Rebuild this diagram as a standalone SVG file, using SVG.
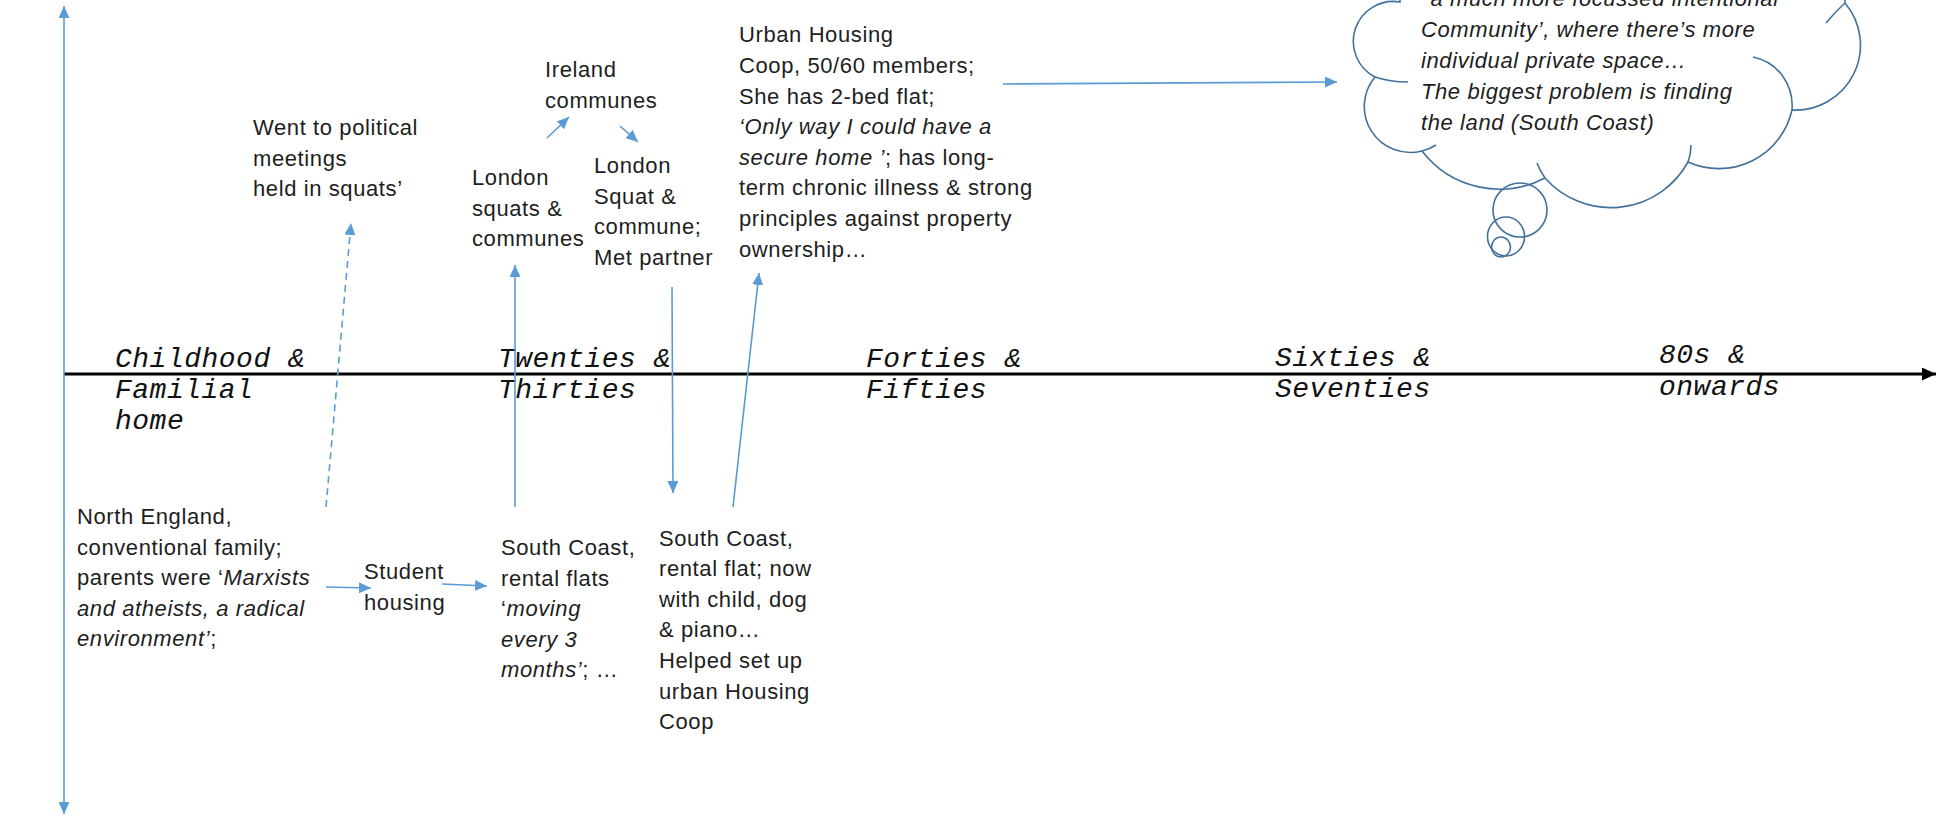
<svg xmlns="http://www.w3.org/2000/svg" width="1944" height="819" viewBox="0 0 1944 819">
<style>
.t{font-family:"Liberation Sans",Arial,sans-serif;font-size:22px;letter-spacing:0.6px;fill:#1e1e1e}
.i{font-style:italic}
.p{font-family:"Liberation Mono","Courier New",monospace;font-style:italic;font-size:28px;letter-spacing:0.5px;fill:#111}
.c{fill:none;stroke:#5B9BD5;stroke-width:1.6}
.cl{fill:none;stroke:#41719C;stroke-width:1.6}
</style>
<defs>
<marker id="ab" markerUnits="userSpaceOnUse" markerWidth="13" markerHeight="11" refX="12" refY="5.5" orient="auto-start-reverse">
<path d="M0,0 L12,5.5 L0,11 z" fill="#5B9BD5"/>
</marker>
<marker id="ak" markerUnits="userSpaceOnUse" markerWidth="15" markerHeight="13" refX="14" refY="6.5" orient="auto">
<path d="M0,0 L14,6.5 L0,13 z" fill="#000"/>
</marker>
</defs>
<rect width="1944" height="819" fill="#fff"/>

<g id="axes">
<line x1="64" y1="374" x2="1936" y2="374" stroke="#000" stroke-width="3" marker-end="url(#ak)"/>
<line x1="64" y1="6" x2="64" y2="814" class="c" marker-start="url(#ab)" marker-end="url(#ab)"/>
</g>

<g id="periods">
<text class="p" x="115" y="367">Childhood &amp;<tspan x="115" y="398">Familial</tspan><tspan x="115" y="429">home</tspan></text>
<text class="p" x="498" y="367">Twenties &amp;<tspan x="498" y="398">Thirties</tspan></text>
<text class="p" x="866" y="367">Forties &amp;<tspan x="866" y="398">Fifties</tspan></text>
<text class="p" x="1275" y="366">Sixties &amp;<tspan x="1275" y="397">Seventies</tspan></text>
<text class="p" x="1659" y="363">80s &amp;<tspan x="1659" y="395">onwards</tspan></text>
</g>

<g id="connectors">
<line x1="326" y1="507" x2="351" y2="223" class="c" stroke-dasharray="7,5" marker-end="url(#ab)"/>
<line x1="515" y1="507" x2="515" y2="265" class="c" marker-end="url(#ab)"/>
<line x1="547" y1="138" x2="569" y2="117" class="c" marker-end="url(#ab)"/>
<line x1="620" y1="126" x2="638" y2="142" class="c" marker-end="url(#ab)"/>
<line x1="672" y1="287" x2="673" y2="493" class="c" marker-end="url(#ab)"/>
<line x1="733" y1="507" x2="759" y2="273" class="c" marker-end="url(#ab)"/>
<line x1="1003" y1="84" x2="1337" y2="82" class="c" marker-end="url(#ab)"/>
<line x1="326" y1="587" x2="371" y2="588" class="c" marker-end="url(#ab)"/>
<line x1="442" y1="584" x2="487" y2="586" class="c" marker-end="url(#ab)"/>
</g>

<g id="node-north">
<text class="t" x="77" y="524">North England,<tspan x="77" y="554.6">conventional family;</tspan><tspan x="77" y="585.2">parents were ‘<tspan class="i">Marxists</tspan></tspan><tspan x="77" y="615.8" class="i">and atheists, a radical</tspan><tspan x="77" y="646.4"><tspan class="i">environment’</tspan>;</tspan></text>
</g>

<g id="node-political">
<text class="t" x="253" y="135">Went to political<tspan x="253" y="165.6">meetings</tspan><tspan x="253" y="196.2">held in squats’</tspan></text>
</g>

<g id="node-student">
<text class="t" x="364" y="579">Student<tspan x="364" y="609.6">housing</tspan></text>
</g>

<g id="node-southcoast1">
<text class="t" x="501" y="555">South Coast,<tspan x="501" y="585.6">rental flats</tspan><tspan x="501" y="616.2">‘<tspan class="i">moving</tspan></tspan><tspan x="501" y="646.8" class="i">every 3</tspan><tspan x="501" y="677.4"><tspan class="i">months’</tspan>; …</tspan></text>
</g>

<g id="node-london1">
<text class="t" x="472" y="185">London<tspan x="472" y="215.6">squats &amp;</tspan><tspan x="472" y="246.2">communes</tspan></text>
</g>

<g id="node-ireland">
<text class="t" x="545" y="77">Ireland<tspan x="545" y="107.6">communes</tspan></text>
</g>

<g id="node-london2">
<text class="t" x="594" y="173">London<tspan x="594" y="203.6">Squat &amp;</tspan><tspan x="594" y="234.2">commune;</tspan><tspan x="594" y="264.8">Met partner</tspan></text>
</g>

<g id="node-southcoast2">
<text class="t" x="659" y="545.5">South Coast,<tspan x="659" y="576.1">rental flat; now</tspan><tspan x="659" y="606.7">with child, dog</tspan><tspan x="659" y="637.3">&amp; piano…</tspan><tspan x="659" y="667.9">Helped set up</tspan><tspan x="659" y="698.5">urban Housing</tspan><tspan x="659" y="729.1">Coop</tspan></text>
</g>

<g id="node-urban">
<text class="t" x="739" y="42.3">Urban Housing<tspan x="739" y="72.9">Coop, 50/60 members;</tspan><tspan x="739" y="103.5">She has 2-bed flat;</tspan><tspan x="739" y="134.1" class="i">‘Only way I could have a</tspan><tspan x="739" y="164.7"><tspan class="i">secure home ’</tspan>; has long-</tspan><tspan x="739" y="195.3">term chronic illness &amp; strong</tspan><tspan x="739" y="225.9">principles against property</tspan><tspan x="739" y="256.5">ownership…</tspan></text>
</g>

<g id="node-thought">
<path d="M1400,2 A40,40 0 0 0 1375,77 A46,46 0 0 0 1422,151 A98,98 0 0 0 1545,178 A88,88 0 0 0 1688,162 A75,75 0 0 0 1792,110 A65,65 0 0 0 1845,3 L1845,-30 L1400,-30 Z" fill="#fff" stroke="#41719C" stroke-width="1.6"/>
<path class="cl" d="M1375,77 Q1390,82 1408,82"/>
<path class="cl" d="M1422,151 Q1430,149 1436,145"/>
<path class="cl" d="M1545,178 Q1540,171 1537,163"/>
<path class="cl" d="M1688,162 Q1691,154 1691,145"/>
<path class="cl" d="M1792,110 C1794,85 1778,62 1753,57"/>
<path class="cl" d="M1845,3 Q1835,12 1826,23"/>
<ellipse class="cl" cx="1520" cy="210" rx="27" ry="27"/>
<ellipse class="cl" cx="1506" cy="236.5" rx="18.5" ry="19.5"/>
<ellipse class="cl" cx="1501" cy="247" rx="9.5" ry="10"/>
<text class="t i" x="1425" y="6">‘a much more focussed intentional<tspan x="1421" y="37">Community’, where there’s more</tspan><tspan x="1421" y="68">individual private space…</tspan><tspan x="1421" y="99">The biggest problem is finding</tspan><tspan x="1421" y="130">the land (South Coast)</tspan></text>
</g>
</svg>
